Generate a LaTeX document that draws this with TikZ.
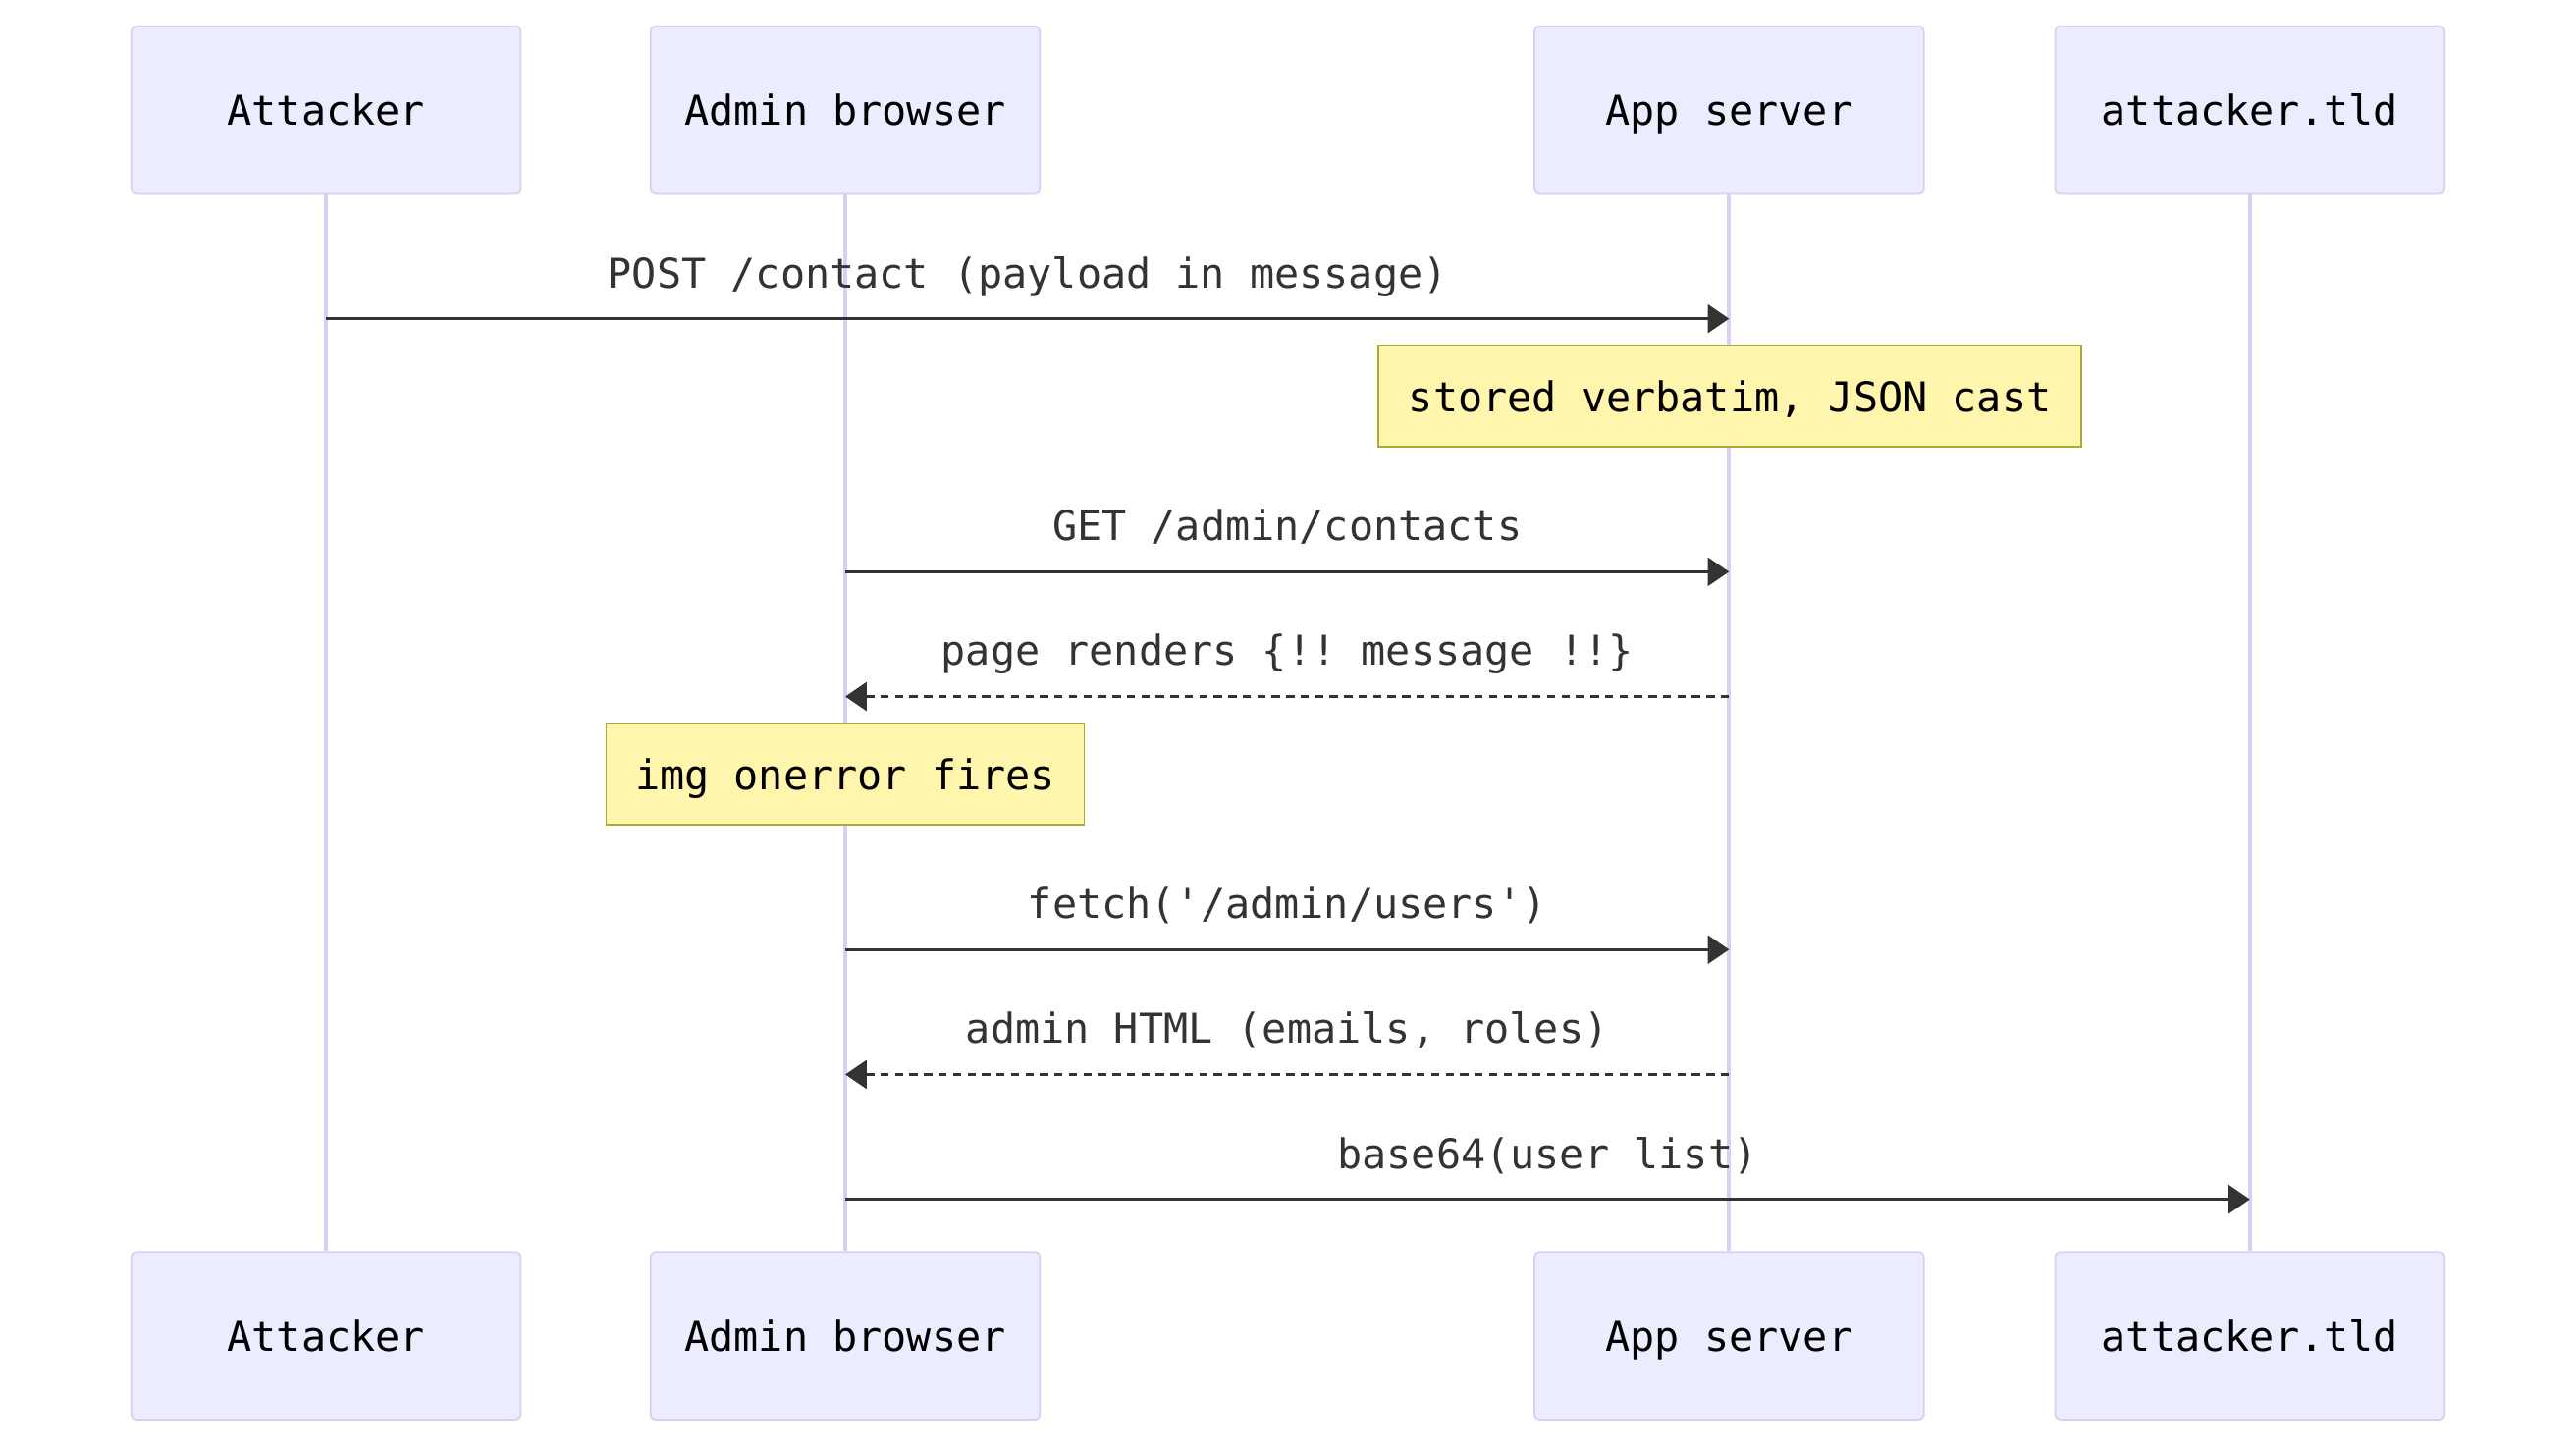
\documentclass[tikz,border=0pt]{standalone}
\usepackage{fontspec}
\setmonofont{DejaVu Sans Mono}
\usetikzlibrary{arrows.meta}
\definecolor{actorfill}{HTML}{ECECFF}
\definecolor{actorline}{HTML}{DACEF3}
\definecolor{notefill}{HTML}{FFF5AD}
\definecolor{noteline}{HTML}{AAAA33}
\definecolor{msgcol}{HTML}{333333}

\begin{document}
\begin{tikzpicture}[x={(0.016735cm,0cm)}, y={(0cm,-0.016735cm)},
        every node/.style={font=\fontsize{11.9}{14}\selectfont\ttfamily,
            text height=10.4pt, text depth=1.4pt},
        actor/.style={draw=actorline, fill=actorfill, line width=0.5pt, rounded corners=1.4pt,
            minimum width=112.9pt, minimum height=48.6pt, inner sep=0pt},
        note/.style={draw=noteline, fill=notefill, line width=0.5pt,
            minimum height=29.5pt, inner sep=0pt},
        lifeline/.style={draw=actorline, line width=1.2pt},
        msg/.style={draw=msgcol, line width=0.95pt, -{Triangle[length=6.2pt,width=8.2pt]}},
        reply/.style={msg, dash pattern=on 2.4pt off 1.8pt},
        lbl/.style={midway, yshift=13.5pt, text=msgcol}]
        \useasboundingbox (0,0) rectangle (1568,882);
        \node[actor] (att) at (198.5,67) {Attacker};
        \node[actor] (brw) at (514.5,67) {Admin browser};
        \node[actor] (app) at (1052.5,67) {App server};
        \node[actor] (tld) at (1369.5,67) {attacker.tld};
        \node[actor] (attB) at (198.5,813) {Attacker};
        \node[actor] (brwB) at (514.5,813) {Admin browser};
        \node[actor] (appB) at (1052.5,813) {App server};
        \node[actor] (tldB) at (1369.5,813) {attacker.tld};
        \foreach \a in {att,brw,app,tld}{
            \draw[lifeline] (\a) -- (\a B);
        }
        \coordinate (r1) at (0,194);
        \coordinate (r2) at (0,348);
        \coordinate (r3) at (0,424);
        \coordinate (r4) at (0,578);
        \coordinate (r5) at (0,654);
        \coordinate (r6) at (0,730);
        \draw[msg] (att |- r1) -- (app |- r1) node[lbl]{POST /contact (payload in message)};
        \node[note, minimum width=203.8pt] (n1) at (1053,241) {stored verbatim, JSON cast};
        \draw[msg] (brw |- r2) -- (app |- r2) node[lbl]{GET /admin/contacts};
        \draw[reply] (app |- r3) -- (brw |- r3) node[lbl]{page renders \{!! message !!\}};
        \node[note, minimum width=138.6pt] (n2) at (514.5,471) {img onerror fires};
        \draw[msg] (brw |- r4) -- (app |- r4) node[lbl]{fetch('/admin/users')};
        \draw[reply] (app |- r5) -- (brw |- r5) node[lbl]{admin HTML (emails, roles)};
        \draw[msg] (brw |- r6) -- (tld |- r6) node[lbl]{base64(user list)};
    \end{tikzpicture}
\end{document}
